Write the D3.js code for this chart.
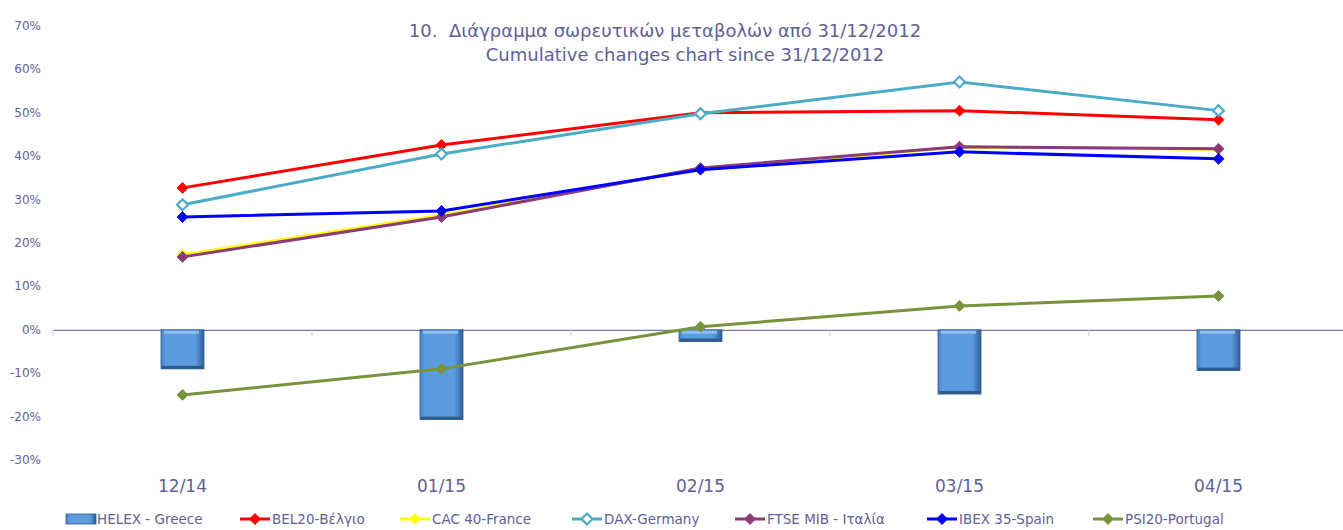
<!DOCTYPE html>
<html>
<head>
<meta charset="utf-8">
<script src="https://cdn.jsdelivr.net/npm/d3@7"></script>
<style>
  body { margin: 0; background: #fff; }
  text { font-family: Tahoma, "DejaVu Sans", Verdana, sans-serif; fill: #5f5f96; }
</style>
</head>
<body>
<div id="chart"></div>
<script>

// data
var months = ["12/14", "01/15", "02/15", "03/15", "04/15"];
var helex = [-9.0, -20.7, -2.7, -14.8, -9.4];
var bel20 = [32.7, 42.6, 50.0, 50.5, 48.4];
var cac40 = [17.3, 26.4, 37.1, 42.1, 41.6];
var dax = [28.8, 40.5, 49.8, 57.1, 50.5];
var ftse = [16.8, 26.0, 37.3, 42.2, 41.7];
var ibex = [26.0, 27.4, 36.9, 41.0, 39.4];
var psi20 = [-15.0, -9.0, 0.7, 5.5, 7.8];
var y_ticks = [-30, -20, -10, 0, 10, 20, 30, 40, 50, 60, 70];

var line_series = [
  {name: "BEL20-Βέλγιο", values: bel20, color: "#ff0000", hollow: false},
  {name: "CAC 40-France", values: cac40, color: "#ffff00", hollow: false},
  {name: "DAX-Germany", values: dax, color: "#4bacc6", hollow: true},
  {name: "FTSE MIB - Ιταλία", values: ftse, color: "#8b3a7a", hollow: false},
  {name: "IBEX 35-Spain", values: ibex, color: "#0000ff", hollow: false},
  {name: "PSI20-Portugal", values: psi20, color: "#77933c", hollow: false}
];

var width = 1343, height = 530;

var svg = d3.select("#chart").append("svg")
  .attr("width", width)
  .attr("height", height);

var defs = svg.append("defs");
var grad = defs.append("linearGradient").attr("id", "bar_grad")
  .attr("x1", 0).attr("x2", 1).attr("y1", 0).attr("y2", 0);
grad.append("stop").attr("offset", "0%").attr("stop-color", "#4a86c8");
grad.append("stop").attr("offset", "12%").attr("stop-color", "#5b9be0");
grad.append("stop").attr("offset", "80%").attr("stop-color", "#5b9be0");
grad.append("stop").attr("offset", "100%").attr("stop-color", "#2f5f96");

// scales
var x = d3.scaleBand().domain(months).range([53, 1348]);
var y = d3.scaleLinear().domain([-30, 70]).range([460, 26]);

// y labels (no axis line)
svg.append("g")
  .selectAll("text")
  .data(y_ticks)
  .enter()
  .append("text")
    .attr("x", 41)
    .attr("y", d => y(d) + 4)
    .attr("text-anchor", "end")
    .style("font-size", "12px")
    .text(d => d + "%");

// x axis along zero
var x_axis = svg.append("g")
  .attr("transform", "translate(0," + y(0) + ")")
  .call(d3.axisBottom(x).tickSize(0).tickFormat(""));
x_axis.select(".domain").attr("stroke", "#7a7aa8").attr("stroke-width", 1.2);
x_axis.selectAll(".sep")
  .data(d3.range(months.length))
  .enter()
  .append("line")
    .attr("x1", i => x(months[i]))
    .attr("x2", i => x(months[i]))
    .attr("y1", 0).attr("y2", 6)
    .attr("stroke", "#c8c8dc");

// month labels
svg.append("g")
  .selectAll("text")
  .data(months)
  .enter()
  .append("text")
    .attr("x", d => x(d) + x.bandwidth()/2)
    .attr("y", 492)
    .attr("text-anchor", "middle")
    .style("font-size", "17px")
    .text(d => d);

// HELEX bars
var bar_w = 43;
var bars = svg.append("g")
  .selectAll("g")
  .data(helex)
  .enter()
  .append("g");
bars.append("rect")
  .attr("x", (d, i) => x(months[i]) + x.bandwidth()/2 - bar_w/2)
  .attr("y", y(0))
  .attr("width", bar_w)
  .attr("height", d => y(d) - y(0))
  .attr("fill", "url(#bar_grad)")
  .attr("stroke", "#2c5a8c")
  .attr("stroke-width", 0.8);
bars.append("rect")
  .attr("x", (d, i) => x(months[i]) + x.bandwidth()/2 - bar_w/2 + 3)
  .attr("y", y(0) + 1)
  .attr("width", bar_w - 8)
  .attr("height", 3)
  .attr("fill", "#8cbcf0");
bars.append("rect")
  .attr("x", (d, i) => x(months[i]) + x.bandwidth()/2 - bar_w/2 + 1)
  .attr("y", d => y(d) - 3)
  .attr("width", bar_w - 2)
  .attr("height", 3)
  .attr("fill", "#2c5a8c");

// lines
var line = d3.line()
  .x((d, i) => x(months[i]) + x.bandwidth()/2)
  .y(d => y(d));

var diamond = d3.symbol().type(d3.symbolDiamond2).size(75);

line_series.forEach(function(s) {
  var g = svg.append("g");
  g.append("path")
    .datum(s.values)
    .attr("d", line)
    .attr("fill", "none")
    .attr("stroke", s.color)
    .attr("stroke-width", 3);
  g.selectAll("path.mk")
    .data(s.values)
    .enter()
    .append("path")
      .attr("class", "mk")
      .attr("transform", (d, i) => "translate(" + (x(months[i]) + x.bandwidth()/2) + "," + y(d) + ")")
      .attr("d", diamond)
      .attr("fill", s.hollow ? "#ffffff" : s.color)
      .attr("stroke", s.color)
      .attr("stroke-width", s.hollow ? 2.2 : 1);
});

// title
svg.append("text")
  .attr("x", 665).attr("y", 37)
  .attr("text-anchor", "middle")
  .style("font-size", "18px")
  .style("white-space", "pre")
  .text("10.  Διάγραμμα σωρευτικών μεταβολών από 31/12/2012");
svg.append("text")
  .attr("x", 685).attr("y", 61)
  .attr("text-anchor", "middle")
  .style("font-size", "18px")
  .text("Cumulative changes chart since 31/12/2012");

// legend
var legend_x = [66, 240, 400, 572, 735, 927, 1093];
var leg = svg.append("g");
var ly = 519;
leg.append("rect")
  .attr("x", legend_x[0]).attr("y", ly - 5)
  .attr("width", 30).attr("height", 10)
  .attr("fill", "url(#bar_grad)")
  .attr("stroke", "#2c5a8c").attr("stroke-width", 0.8);
leg.append("text")
  .attr("x", legend_x[0] + 31).attr("y", ly + 5)
  .style("font-size", "13.5px")
  .text("HELEX - Greece");
line_series.forEach(function(s, i) {
  var lx = legend_x[i + 1];
  leg.append("line")
    .attr("x1", lx).attr("x2", lx + 30)
    .attr("y1", ly).attr("y2", ly)
    .attr("stroke", s.color).attr("stroke-width", 3);
  leg.append("path")
    .attr("transform", "translate(" + (lx + 15) + "," + ly + ")")
    .attr("d", diamond)
    .attr("fill", s.hollow ? "#ffffff" : s.color)
    .attr("stroke", s.color)
    .attr("stroke-width", s.hollow ? 2.2 : 1);
  leg.append("text")
    .attr("x", lx + 32).attr("y", ly + 5)
    .style("font-size", "13.5px")
    .text(s.name);
});

</script>
</body>
</html>
